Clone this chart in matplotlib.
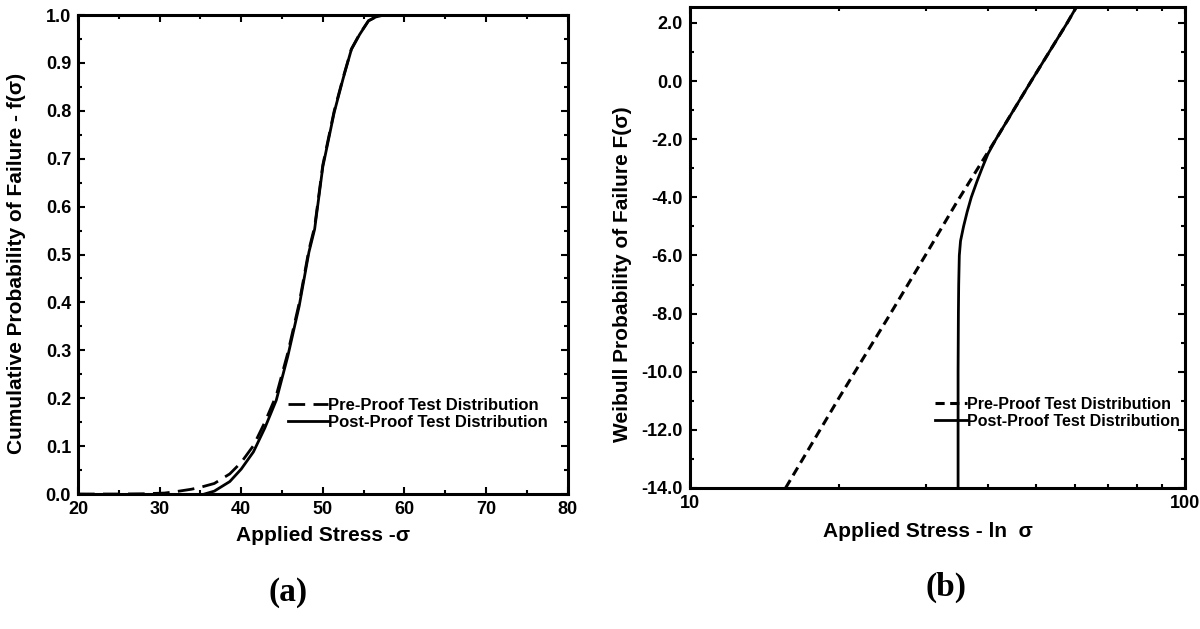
import matplotlib
matplotlib.use("Agg")
import matplotlib.pyplot as plt
from matplotlib.ticker import MultipleLocator, FixedLocator, NullFormatter, FixedFormatter

plt.rcParams['font.family'] = ['Liberation Sans', 'DejaVu Sans']

# ---------------- data ----------------
# panel (a): cumulative probability of failure
sigma_pre_a = [20, 25, 28, 30.6, 32, 33.9, 35, 36.7, 38.6, 40, 41.5, 42.9, 44.3, 45.7,
               47.1, 48.3, 49.0, 50.0, 51.4, 52.5, 53.5, 54.5, 55.6, 56.5, 57.5, 58.5, 60, 70, 80]
F_pre_a = [0, 0, 0.0005, 0.002, 0.005, 0.010, 0.014, 0.022, 0.042, 0.066, 0.101, 0.150, 0.206, 0.294,
           0.398, 0.510, 0.558, 0.687, 0.800, 0.870, 0.929, 0.960, 0.988, 0.996, 1.0, 1.0, 1.0, 1.0, 1.0]

sigma_post_a = [35.5, 36.7, 38.6, 40, 41.5, 42.9, 44.3, 45.7, 47.1, 48.3, 49.0, 50.0, 51.4,
                52.5, 53.5, 54.5, 55.6, 56.5, 57.5, 58.5, 60, 70, 80]
F_post_a = [0, 0.006, 0.026, 0.052, 0.088, 0.138, 0.196, 0.287, 0.392, 0.505, 0.553, 0.683, 0.797,
            0.868, 0.928, 0.959, 0.988, 0.996, 1.0, 1.0, 1.0, 1.0, 1.0]

# panel (b): Weibull probability of failure
sigma_pre_b = [15.6, 20, 25, 30, 34.5, 41.5, 48.9, 57.8, 63]
W_pre_b = [-14.0, -10.9, -8.2, -5.95, -4.2, -2.0, 0.0, 2.0, 3.1]

sigma_post_b = [34.8, 34.8, 34.85, 34.9, 35.0, 35.2, 35.7, 36.3, 37.0, 38.0, 38.9, 40.0, 41.5,
                48.9, 57.8, 63]
W_post_b = [-14.5, -10.0, -8.0, -7.0, -6.0, -5.5, -5.0, -4.5, -4.0, -3.45, -3.0, -2.5, -2.0,
            0.0, 2.0, 3.1]

xticks_a = [20, 30, 40, 50, 60, 70, 80]
yticks_a = [0.0, 0.1, 0.2, 0.3, 0.4, 0.5, 0.6, 0.7, 0.8, 0.9, 1.0]
yticks_b = [2.0, 0.0, -2.0, -4.0, -6.0, -8.0, -10.0, -12.0, -14.0]
xticks_b = [10, 100]

labels = ['Pre-Proof Test Distribution', 'Post-Proof Test Distribution']

# ---------------- figure ----------------
fig = plt.figure(figsize=(12, 6.29), dpi=100)
axa = fig.add_axes([0.065, 0.2146, 0.408, 0.7615])
axb = fig.add_axes([0.575, 0.2242, 0.4125, 0.7647])

TICK_FS = 13
LABEL_FS = 15
tickfont = dict(fontsize=TICK_FS, fontweight='bold')

def style(ax):
    for s in ax.spines.values():
        s.set_linewidth(2.2)
    ax.tick_params(which='both', direction='in', top=True, right=True, width=1.5)
    ax.tick_params(which='major', length=5, pad=5)
    ax.tick_params(which='minor', length=3)

# panel (a)
axa.plot(sigma_pre_a, F_pre_a, color='black', lw=2, dashes=(6, 3), label=labels[0])
axa.plot(sigma_post_a, F_post_a, color='black', lw=2, label=labels[1])
axa.set_xlim(20, 80)
axa.set_ylim(0, 1.0)
axa.set_xticks(xticks_a)
axa.set_xticklabels([str(v) for v in xticks_a], **tickfont)
axa.set_yticks(yticks_a)
axa.set_yticklabels(['%.1f' % v for v in yticks_a], **tickfont)
axa.xaxis.set_minor_locator(MultipleLocator(5))
axa.yaxis.set_minor_locator(MultipleLocator(0.05))
style(axa)
axa.set_xlabel('Applied Stress -σ', fontsize=LABEL_FS, fontweight='bold', labelpad=6)
axa.set_ylabel('Cumulative Probability of Failure - f(σ)', fontsize=LABEL_FS,
               fontweight='bold', labelpad=14, y=0.482)
axa.legend(loc='upper left', bbox_to_anchor=(0.429, 0.2), frameon=False,
           handlelength=2.4, handletextpad=0.0, borderpad=0, borderaxespad=0,
           labelspacing=0.1, prop=dict(size=12, weight='bold'))

# panel (b)
axb.plot(sigma_pre_b, W_pre_b, color='black', lw=2.2, dashes=(3, 1.8), label=labels[0])
axb.plot(sigma_post_b, W_post_b, color='black', lw=2, label=labels[1])
axb.set_xscale('log')
axb.set_xlim(10, 100)
axb.set_ylim(-14, 2.55)
axb.xaxis.set_major_locator(FixedLocator(xticks_b))
axb.xaxis.set_major_formatter(FixedFormatter([str(v) for v in xticks_b]))
axb.xaxis.set_minor_locator(FixedLocator([20, 30, 40, 50, 60, 70, 80, 90]))
axb.xaxis.set_minor_formatter(NullFormatter())
for t in axb.get_xticklabels():
    t.set_fontsize(TICK_FS); t.set_fontweight('bold')
axb.set_yticks(yticks_b)
axb.set_yticklabels(['%.1f' % v for v in yticks_b], **tickfont)
axb.yaxis.set_minor_locator(MultipleLocator(1))
style(axb)
axb.set_xlabel('Applied Stress - ln  σ', fontsize=LABEL_FS, fontweight='bold',
               labelpad=7, x=0.48)
axb.set_ylabel('Weibull Probability of Failure F(σ)', fontsize=LABEL_FS,
               fontweight='bold', labelpad=7, y=0.445)
axb.legend(loc='upper left', bbox_to_anchor=(0.495, 0.19), frameon=False,
           handlelength=2.0, handletextpad=0.0, borderpad=0, borderaxespad=0,
           labelspacing=0.15, prop=dict(size=11.5, weight='bold'))

fig.text(0.24, 1 - 593 / 629, '(a)', fontsize=24, fontweight='bold',
         family='Liberation Serif', ha='center', va='center')
fig.text(0.788, 1 - 587 / 629, '(b)', fontsize=24, fontweight='bold',
         family='Liberation Serif', ha='center', va='center')

fig.savefig('out.png', dpi=100)
